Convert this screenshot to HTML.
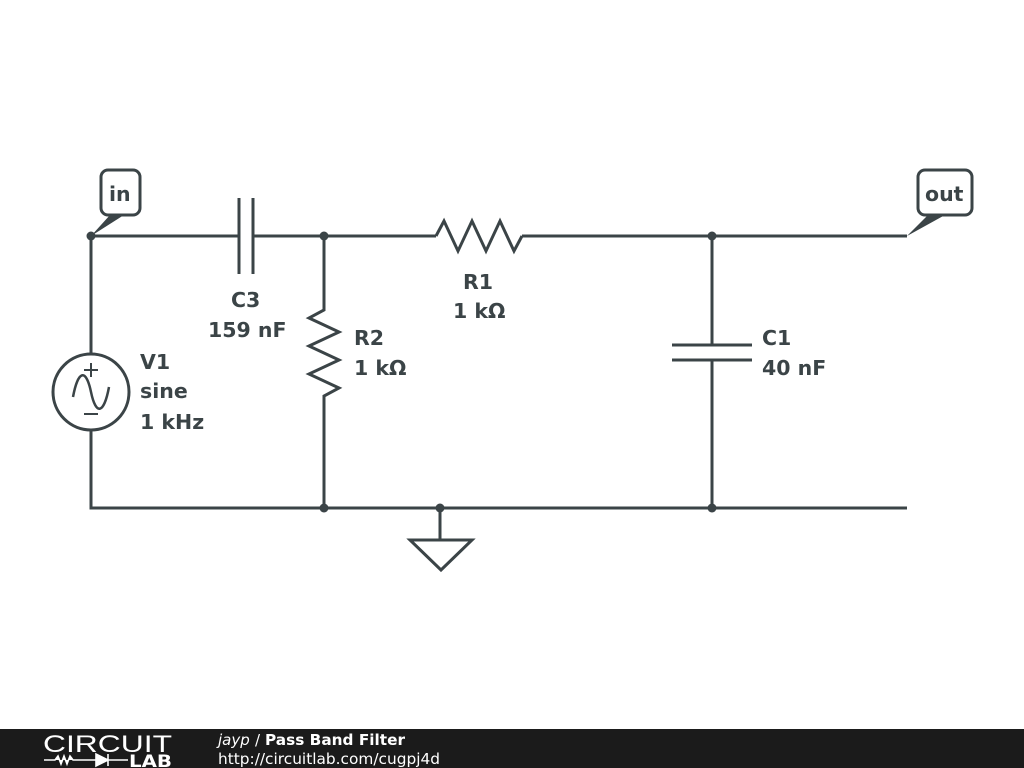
<!DOCTYPE html>
<html><head><meta charset="utf-8"><style>
html,body{margin:0;padding:0;background:#fff;}
svg{display:block}
text{font-family:"DejaVu Sans","Liberation Sans",sans-serif;font-weight:bold;fill:#3b4447;}
</style></head><body>
<svg width="1024" height="768" viewBox="0 0 1024 768" xmlns="http://www.w3.org/2000/svg">
<g stroke="#3b4447" stroke-width="3" fill="none" stroke-linejoin="miter">
<path d="M91 236 H239 M253 236 H436 M522 236 H907"/>
<path d="M239 198 V274 M253 198 V274"/>
<path d="M436 236 L444 221 L458 251 L472 221 L486 251 L500 221 L514 251 L522 236"/>
<path d="M91 236 V354 M91 430 V508 H907"/>
<circle cx="91" cy="392" r="38"/>
<path d="M324 236 V310 L309 318 L339 332 L309 346 L339 360 L309 374 L339 388 L324 396 V508"/>
<path d="M712 236 V345 M712 360 V508 M672 345 H752 M672 360 H752"/>
<path d="M440 508 V540 M410 540 H472 L441 570 Z"/>
<rect x="101" y="170" width="39" height="45" rx="7"/>
<rect x="918" y="170" width="54" height="45" rx="7"/>
<path d="M73 397 C78 370 86 368 91 392 C96 416 104 414 109 387" stroke-width="2.5"/>
<path d="M84 370 H98 M91 363 V377 M84 414 H98" stroke-width="2"/>
</g>
<g fill="#3b4447">
<circle cx="91" cy="236" r="4.5"/><circle cx="324" cy="236" r="4.5"/><circle cx="712" cy="236" r="4.5"/>
<circle cx="324" cy="508" r="4.5"/><circle cx="440" cy="508" r="4.5"/><circle cx="712" cy="508" r="4.5"/>
<path d="M91 236 L110 215 L124 215 Z"/>
<path d="M907 236 L928 215 L945 215 Z"/>
</g>
<g font-size="20.5">
<text x="109" y="201">in</text>
<text x="925" y="201">out</text>
<text x="231" y="307">C3</text>
<text x="208" y="337">159 nF</text>
<text x="354" y="345">R2</text>
<text x="354" y="375">1 kΩ</text>
<text x="463" y="289">R1</text>
<text x="453" y="318">1 kΩ</text>
<text x="762" y="345">C1</text>
<text x="762" y="375">40 nF</text>
<text x="140" y="369">V1</text>
<text x="140" y="398">sine</text>
<text x="140" y="429">1 kHz</text>
</g>
<rect x="0" y="729" width="1024" height="39" fill="#1b1b1b"/>
<text x="43" y="752" font-size="24" textLength="129" lengthAdjust="spacingAndGlyphs" style="fill:#fff;font-weight:normal;font-family:'Liberation Sans',sans-serif">CIRCUIT</text>
<path d="M44 760 H55 L58 756 L61 764 L64 756 L67 764 L70 756 L73 760 H96 M96 754 V766 L108 760 Z M108 754 V766 M108 760 H128" stroke="#fff" stroke-width="1.6" fill="#fff"/>
<text x="129" y="767" font-size="17" textLength="43" lengthAdjust="spacingAndGlyphs" style="fill:#fff">LAB</text>
<text x="218" y="745" font-size="15" style="fill:#fff;font-weight:normal;font-style:italic">jayp</text>
<text x="255" y="745" font-size="15" style="fill:#fff;font-weight:normal">/</text>
<text x="265" y="745" font-size="15" textLength="140" lengthAdjust="spacingAndGlyphs" style="fill:#fff">Pass Band Filter</text>
<text x="218" y="764" font-size="15" textLength="222" lengthAdjust="spacingAndGlyphs" style="fill:#fff;font-weight:normal">http://circuitlab.com/cugpj4d</text>
</svg>
</body></html>
